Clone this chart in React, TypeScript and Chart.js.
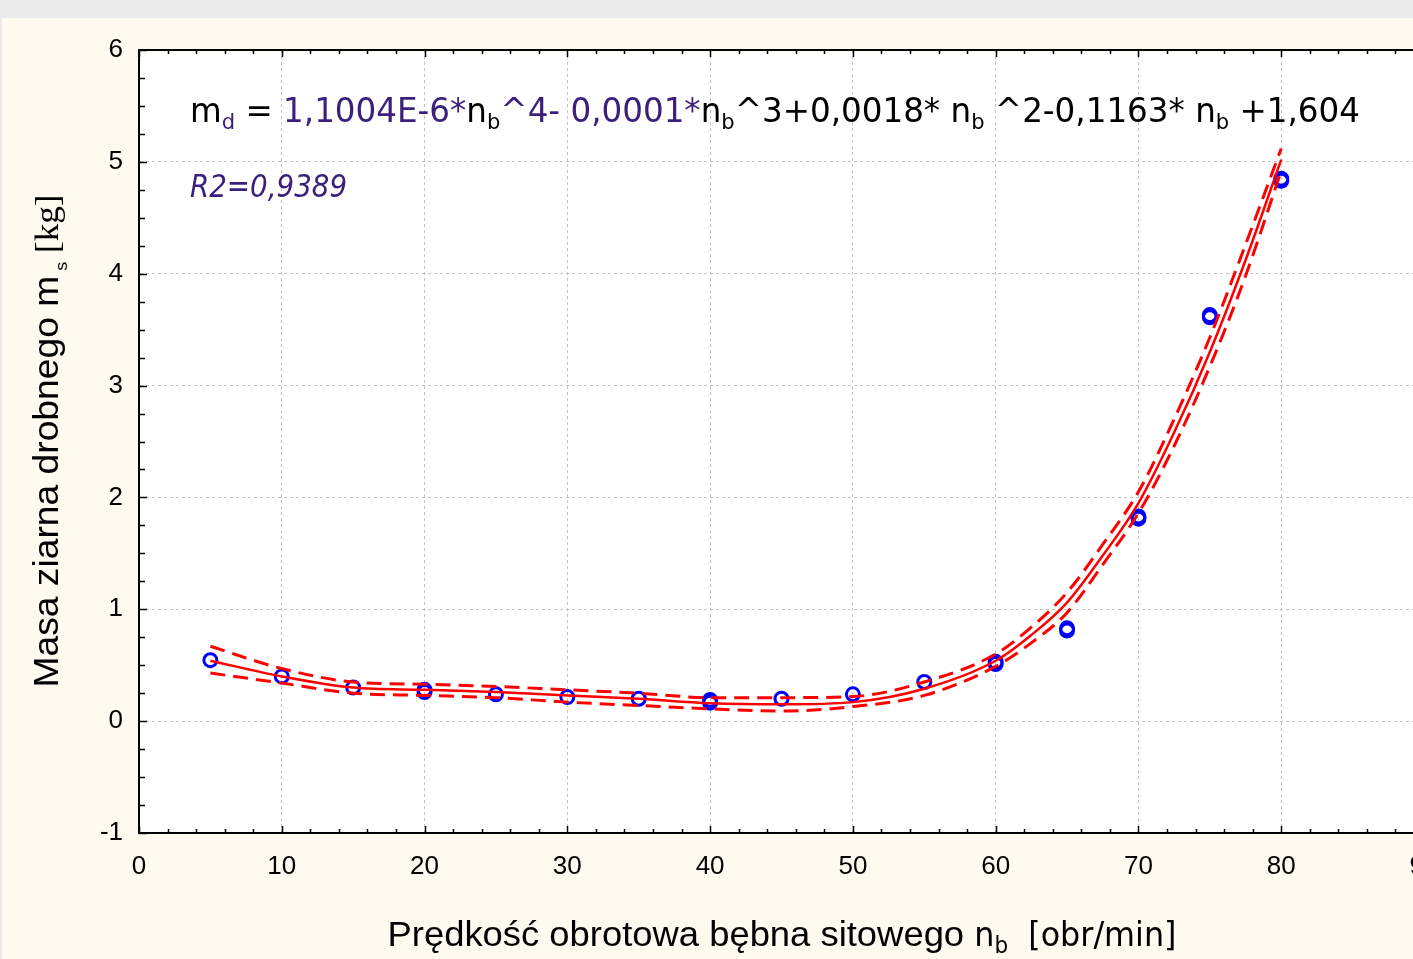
import React, { useEffect, useRef } from "react";
import { Chart, registerables } from "chart.js";

Chart.register(...registerables);

// ---- data ----
const measuredSpeeds = [5, 10, 15, 20, 25, 30, 35, 40, 45, 50, 55, 60, 65, 70, 75, 80];
const measuredMass = [0.545, 0.4, 0.3, 0.28, 0.24, 0.215, 0.2, 0.19, 0.2, 0.24, 0.35, 0.53, 0.83, 1.83, 3.63, 4.85];
const repeatSpeeds = [20, 40, 60, 65, 70, 75, 80];
const repeatMass = [0.26, 0.165, 0.51, 0.81, 1.81, 3.61, 4.83];

const fitSpeeds = [5, 10, 15, 20, 25, 30, 35, 40, 45, 50, 55, 60, 62.5, 65, 67.5, 70, 72.5, 75, 77.5, 80];
const fitMass = [0.54, 0.4, 0.3, 0.28, 0.26, 0.23, 0.2, 0.16, 0.15, 0.17, 0.29, 0.54, 0.77, 1.06, 1.48, 1.95, 2.58, 3.3, 4.12, 5.02];
const upperMass = [0.67, 0.47, 0.35, 0.33, 0.31, 0.28, 0.25, 0.21, 0.21, 0.22, 0.35, 0.6, 0.84, 1.15, 1.58, 2.05, 2.7, 3.43, 4.26, 5.12];
const lowerMass = [0.43, 0.34, 0.25, 0.23, 0.21, 0.17, 0.14, 0.11, 0.09, 0.13, 0.23, 0.49, 0.7, 0.97, 1.4, 1.86, 2.46, 3.17, 3.98, 4.92];

const xTickValues = [0, 10, 20, 30, 40, 50, 60, 70, 80, 90];
const yTickValues = [-1, 0, 1, 2, 3, 4, 5, 6];

const equationTexts = ["m", "d", " = ", "1,1004E-6*", "n", "b", "^4- 0,0001*", "n", "b", "^3+0,0018* n", "b", " ^2-0,1163* n", "b", " +1,604"];
const r2Text = "R2=0,9389";
const xTitleTexts = ["Prędkość obrotowa bębna sitowego ", "n", "b", "  [obr/min]"];
const yTitleTexts = ["Masa ziarna drobnego m", " s", " [kg]"];

// ---- styles ----
const PURPLE = "#3b1f7d";
const SANS = "'Liberation Sans', Arial, sans-serif";
const TAHOMA = "'DejaVu Sans Condensed', 'DejaVu Sans', sans-serif";
const SERIF = "'Liberation Serif', 'Times New Roman', serif";

type Run = { text: string; font: string; color: string; dy: number };

function drawRuns(ctx: CanvasRenderingContext2D, runs: Run[], x: number, y: number, target?: number, center?: boolean) {
  const widths = runs.map((r) => {
    ctx.font = r.font;
    return ctx.measureText(r.text).width;
  });
  const total = widths.reduce((a, b) => a + b, 0);
  const sc = target ? target / total : 1;
  ctx.save();
  ctx.translate(x, y);
  ctx.scale(sc, 1);
  let cx = center ? -total / 2 : 0;
  ctx.textBaseline = "alphabetic";
  ctx.textAlign = "left";
  runs.forEach((r, i) => {
    ctx.font = r.font;
    ctx.fillStyle = r.color;
    ctx.fillText(r.text, cx, r.dy);
    cx += widths[i];
  });
  ctx.restore();
}

const zip = (xs: number[], ys: number[]) => xs.map((x, i) => ({ x, y: ys[i] }));

const decorPlugin = {
  id: "decor",
  beforeDraw(chart: any) {
    const { ctx, chartArea: a, width, height } = chart;
    ctx.save();
    ctx.fillStyle = "#ebebeb";
    ctx.fillRect(0, 0, width, height);
    ctx.fillStyle = "#fefaef";
    ctx.fillRect(2, 18, width - 2, height - 18);
    ctx.fillStyle = "#ffffff";
    ctx.fillRect(a.left, a.top, a.right - a.left, a.bottom - a.top);
    ctx.restore();
  },
  afterDraw(chart: any) {
    const { ctx, chartArea: a } = chart;
    const xs = chart.scales.x;
    const ys = chart.scales.y;
    ctx.save();
    ctx.strokeStyle = "#000";
    ctx.lineWidth = 2;
    ctx.beginPath();
    ctx.moveTo(a.left - 1, a.top);
    ctx.lineTo(a.right + 1, a.top);
    ctx.moveTo(a.right, a.top);
    ctx.lineTo(a.right, a.bottom);
    ctx.stroke();
    ctx.lineWidth = 1.5;
    ctx.beginPath();
    for (let v = 0; v <= 90; v += 2) {
      const px = Math.round(xs.getPixelForValue(v)) + 0.5;
      const len = v % 10 === 0 ? 7 : 4;
      ctx.moveTo(px, a.bottom);
      ctx.lineTo(px, a.bottom - len);
      ctx.moveTo(px, a.top);
      ctx.lineTo(px, a.top + len);
    }
    for (let k = -4; k <= 24; k++) {
      const v = k / 4;
      const py = Math.round(ys.getPixelForValue(v)) + 0.5;
      const len = k % 4 === 0 ? 8 : 6;
      ctx.moveTo(a.left, py);
      ctx.lineTo(a.left + len, py);
      ctx.moveTo(a.right, py);
      ctx.lineTo(a.right - len, py);
    }
    ctx.stroke();

    // equation
    const main = `34px ${TAHOMA}`;
    const sub = `22px ${TAHOMA}`;
    const colors = ["#000", PURPLE, "#000", PURPLE, "#000", "#000", PURPLE, "#000", "#000", "#000", "#000", "#000", "#000", "#000"];
    const subs = [false, true, false, false, false, true, false, false, true, false, true, false, true, false];
    const eqRuns: Run[] = equationTexts.map((t, i) => ({
      text: t,
      font: subs[i] ? sub : main,
      color: colors[i],
      dy: subs[i] ? 7 : 0,
    }));
    drawRuns(ctx, eqRuns, 190, 122, 1170);

    drawRuns(ctx, [{ text: r2Text, font: `oblique 32px ${TAHOMA}`, color: PURPLE, dy: 0 }], 190, 197, 157);

    // x title
    const xRuns: Run[] = [
      { text: xTitleTexts[0], font: `35px ${SANS}`, color: "#000", dy: 0 },
      { text: xTitleTexts[1], font: `34px ${TAHOMA}`, color: "#000", dy: 0 },
      { text: xTitleTexts[2], font: `23px ${TAHOMA}`, color: "#000", dy: 7 },
      { text: xTitleTexts[3], font: `34px ${TAHOMA}`, color: "#000", dy: 0 },
    ];
    drawRuns(ctx, xRuns, 782, 946, 789, true);

    // y title
    ctx.save();
    ctx.translate(58, 441);
    ctx.rotate(-Math.PI / 2);
    const yRuns: Run[] = [
      { text: yTitleTexts[0], font: `35px ${SANS}`, color: "#000", dy: 0 },
      { text: yTitleTexts[1], font: `17px ${SANS}`, color: "#000", dy: 9 },
      { text: yTitleTexts[2], font: `33px ${SERIF}`, color: "#000", dy: 0 },
    ];
    drawRuns(ctx, yRuns, 0, 0, 493, true);
    ctx.restore();
    ctx.restore();
  },
};

export default function App() {
  const ref = useRef<HTMLCanvasElement | null>(null);
  useEffect(() => {
    if (!ref.current) return;
    const lineBase = {
      showLine: true,
      pointRadius: 0,
      borderColor: "#ff0000",
      borderWidth: 2.5,
      cubicInterpolationMode: "monotone" as const,
      fill: false,
    };
    const pointBase = {
      showLine: false,
      pointRadius: 6.5,
      pointBorderWidth: 3,
      pointBorderColor: "#0000ff",
      pointBackgroundColor: "rgba(0,0,0,0)",
      borderColor: "#0000ff",
      backgroundColor: "rgba(0,0,0,0)",
      pointStyle: "circle" as const,
    };
    const tickFont = { family: SANS, size: 26 };
    const chart = new Chart(ref.current, {
      type: "scatter",
      data: {
        datasets: [
          { ...lineBase, label: "fit", data: zip(fitSpeeds, fitMass) },
          { ...lineBase, label: "upper", data: zip(fitSpeeds, upperMass), borderDash: [15, 8], borderWidth: 3 },
          { ...lineBase, label: "lower", data: zip(fitSpeeds, lowerMass), borderDash: [15, 8], borderWidth: 3 },
          { ...pointBase, label: "measured", data: zip(measuredSpeeds, measuredMass) },
          { ...pointBase, label: "repeat", data: zip(repeatSpeeds, repeatMass) },
        ] as any,
      },
      options: {
        responsive: false,
        animation: false,
        devicePixelRatio: 1,
        layout: { padding: { top: 50, right: 36, left: 0, bottom: 0 } },
        plugins: { legend: { display: false }, tooltip: { enabled: false } },
        scales: {
          x: {
            type: "linear",
            min: 0,
            max: 90,
            afterBuildTicks: (s: any) => {
              s.ticks = xTickValues.map((v) => ({ value: v }));
            },
            ticks: { font: tickFont, color: "#000", padding: 18, maxRotation: 0, autoSkip: false, callback: (v: any) => String(v) },
            grid: { color: "#c4c4c4", lineWidth: 1, drawTicks: false },
            border: { color: "#000", width: 2, dash: [3, 3] },
            afterFit: (s: any) => {
              s.height = 126;
            },
          },
          y: {
            type: "linear",
            min: -1,
            max: 6,
            afterBuildTicks: (s: any) => {
              s.ticks = yTickValues.map((v) => ({ value: v }));
            },
            ticks: { font: tickFont, color: "#000", padding: 16, autoSkip: false, callback: (v: any) => String(v) },
            grid: { color: "#c4c4c4", lineWidth: 1, drawTicks: false },
            border: { color: "#000", width: 2, dash: [3, 3] },
            afterFit: (s: any) => {
              s.width = 139;
            },
          },
        },
      } as any,
      plugins: [decorPlugin],
    });
    return () => chart.destroy();
  }, []);
  return (
    <div style={{ position: "fixed", left: 0, top: 0, width: 1413, height: 959, overflow: "hidden", background: "#fefaef" }}>
      <canvas ref={ref} width={1460} height={959} style={{ display: "block", width: 1460, height: 959 }} />
    </div>
  );
}
